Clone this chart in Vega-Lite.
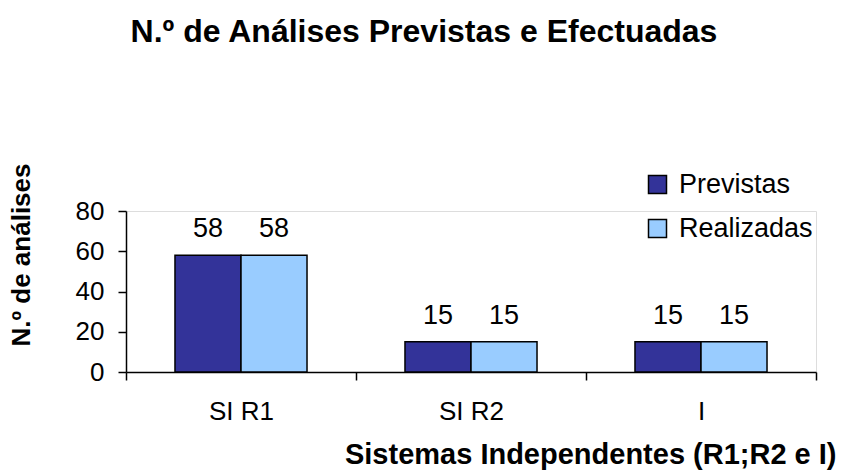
{
  "$schema": "https://vega.github.io/schema/vega-lite/v6.json",
  "width": 690,
  "height": 161,
  "autosize": "none",
  "padding": {"left": 126, "top": 211, "right": 25, "bottom": 100},
  "background": "white",
  "title": {
    "text": "N.º de Análises Previstas e Efectuadas",
    "font": "Liberation Sans",
    "fontSize": 32,
    "fontWeight": "bold",
    "color": "black",
    "anchor": "middle",
    "frame": "group",
    "baseline": "alphabetic",
    "dx": -47,
    "offset": 89
  },
  "data": {
    "values": [
      {"sistema": "SI R1", "serie": "Previstas", "n": 58},
      {"sistema": "SI R1", "serie": "Realizadas", "n": 58},
      {"sistema": "SI R2", "serie": "Previstas", "n": 15},
      {"sistema": "SI R2", "serie": "Realizadas", "n": 15},
      {"sistema": "I", "serie": "Previstas", "n": 15},
      {"sistema": "I", "serie": "Realizadas", "n": 15}
    ]
  },
  "encoding": {
    "x": {
      "field": "sistema",
      "type": "nominal",
      "sort": ["SI R1", "SI R2", "I"],
      "scale": {"paddingInner": 0, "paddingOuter": 0},
      "axis": {
        "title": "Sistemas Independentes (R1;R2 e I)",
        "titleFont": "Liberation Sans",
        "titleFontSize": 29,
        "titleFontWeight": "bold",
        "titleColor": "black",
        "titleAlign": "right",
        "titleX": 710,
        "titlePadding": 16,
        "labelFont": "Liberation Sans",
        "labelFontSize": 26,
        "labelColor": "black",
        "labelAngle": 0,
        "labelPadding": 18,
        "tickBand": "extent",
        "tickSize": 8,
        "tickColor": "black",
        "tickWidth": 1.5,
        "domainColor": "black",
        "domainWidth": 1.5,
        "grid": false
      }
    },
    "xOffset": {
      "field": "serie",
      "type": "nominal",
      "sort": ["Previstas", "Realizadas"],
      "scale": {"paddingInner": 0, "paddingOuter": 0.742}
    },
    "y": {
      "field": "n",
      "type": "quantitative",
      "scale": {"domain": [0, 80], "nice": false},
      "axis": {
        "values": [0, 20, 40, 60, 80],
        "title": "N.º de análises",
        "titleFont": "Liberation Sans",
        "titleFontSize": 26,
        "titleFontWeight": "bold",
        "titleColor": "black",
        "titleAngle": -90,
        "titleAlign": "right",
        "titleBaseline": "bottom",
        "titleX": -92,
        "titleY": -48,
        "labelFont": "Liberation Sans",
        "labelFontSize": 26,
        "labelColor": "black",
        "labelPadding": 14,
        "tickSize": 8,
        "tickColor": "black",
        "tickWidth": 1.5,
        "domainColor": "black",
        "domainWidth": 1.5,
        "grid": false
      }
    }
  },
  "layer": [
    {
      "mark": {"type": "bar", "stroke": "black", "strokeWidth": 1.5},
      "encoding": {
        "color": {
          "field": "serie",
          "type": "nominal",
          "sort": ["Previstas", "Realizadas"],
          "scale": {"domain": ["Previstas", "Realizadas"], "range": ["#333399", "#99CCFF"]},
          "legend": {
            "title": null,
            "orient": "none",
            "legendX": 518,
            "legendY": -40,
            "symbolType": "square",
            "symbolSize": 324,
            "symbolStrokeColor": "black",
            "symbolStrokeWidth": 1.5,
            "symbolOpacity": 1,
            "labelFont": "Liberation Sans",
            "labelFontSize": 27,
            "labelColor": "black",
            "labelOffset": 8,
            "rowPadding": 16
          }
        }
      }
    },
    {
      "mark": {
        "type": "text",
        "font": "Liberation Sans",
        "fontSize": 27,
        "color": "black",
        "baseline": "alphabetic",
        "dy": -18
      },
      "encoding": {"text": {"field": "n", "type": "quantitative"}}
    }
  ]
}
